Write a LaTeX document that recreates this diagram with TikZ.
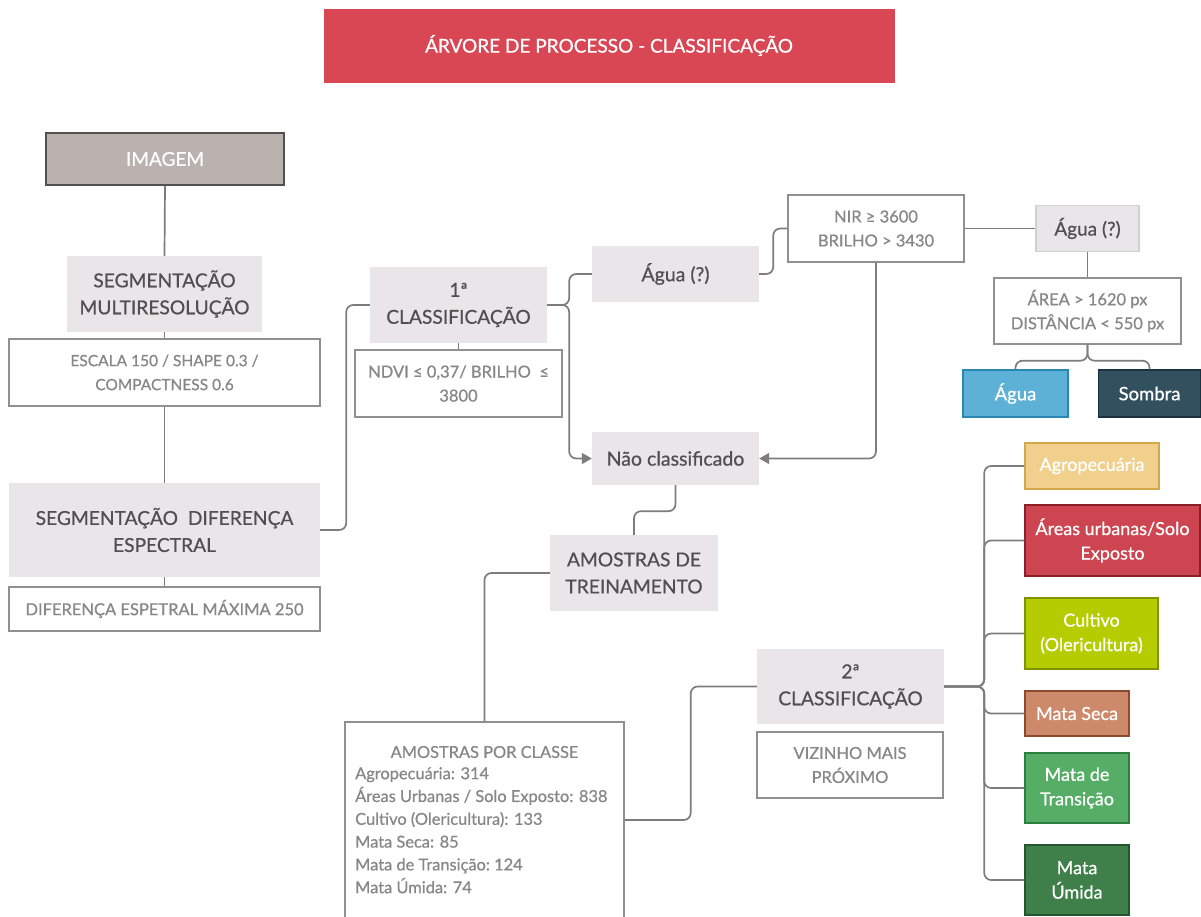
\documentclass[tikz,border=0pt]{standalone}
\usepackage{fontspec}
\setmainfont{Lato}[RawFeature={embolden=0.7}]
\usepackage{tikz}
\usetikzlibrary{arrows.meta,positioning,calc}
\definecolor{titleRed}{RGB}{217,71,84}
\definecolor{boxGray}{RGB}{233,229,232}
\definecolor{imgGray}{RGB}{187,177,175}
\definecolor{txtDark}{RGB}{80,80,80}
\definecolor{txtLight}{RGB}{135,135,135}
\definecolor{lineGray}{RGB}{125,125,125}
\definecolor{aguaBlue}{RGB}{93,176,214}
\definecolor{aguaBlueDark}{RGB}{42,134,179}
\definecolor{sombraDark}{RGB}{51,80,95}
\definecolor{sombraDarker}{RGB}{28,50,64}
\definecolor{agroFill}{RGB}{240,208,140}
\definecolor{agroLine}{RGB}{212,168,74}
\definecolor{urbFill}{RGB}{204,69,80}
\definecolor{urbLine}{RGB}{139,31,39}
\definecolor{cultFill}{RGB}{181,204,0}
\definecolor{cultLine}{RGB}{127,147,0}
\definecolor{secaFill}{RGB}{205,138,106}
\definecolor{secaLine}{RGB}{140,74,46}
\definecolor{transFill}{RGB}{85,173,102}
\definecolor{transLine}{RGB}{46,128,64}
\definecolor{umidaFill}{RGB}{63,127,74}
\definecolor{umidaLine}{RGB}{36,85,48}

\begin{document}
\begin{tikzpicture}[x=1pt,y=-1pt,
  base/.style={rectangle, inner sep=0pt, align=center},
  graybox/.style={base, fill=boxGray, text=txtDark, font=\fontsize{19.2}{27}\selectfont},
  whitebox/.style={base, draw=lineGray!85, line width=1.4pt, fill=white, text=txtLight, font=\fontsize{16.5}{24}\selectfont},
  classbox/.style={base, line width=1.4pt, text=white, font=\fontsize{18}{24.5}\selectfont},
  conn/.style={draw=lineGray, line width=1.7pt, rounded corners=7pt},
  tip/.style={-{Triangle[length=10pt,width=11pt]}},
  sz/.style 2 args={minimum width=#1pt, minimum height=#2pt}]
\useasboundingbox (0,0) rectangle (1201,916);

% title
\node[base, sz={571}{74}, fill=titleRed, text=white, font=\fontsize{19}{22}\selectfont] (title) at (609,45.5) {ÁRVORE DE PROCESSO - CLASSIFICAÇÃO};

% segmentation column
\node[base, sz={238}{52}, fill=imgGray, draw=txtDark, line width=1.4pt, text=white, font=\fontsize{19}{22}\selectfont] (imagem) at (165,159) {IMAGEM};
\node[graybox, sz={195}{76}] (segmulti) at (164.5,294) {SEGMENTAÇÃO\\MULTIRESOLUÇÃO};
\node[whitebox, sz={311}{67}, font=\fontsize{15.5}{24}\selectfont] (escala) at (164.5,372.5) {ESCALA 150 / SHAPE 0.3 /\\COMPACTNESS 0.6};
\node[graybox, sz={311}{94}] (segdif) at (164.5,530) {SEGMENTAÇÃO\ \ DIFERENÇA\\ESPECTRAL};
\node[whitebox, sz={311}{44}] (difer) at (164.5,609) {DIFERENÇA ESPETRAL MÁXIMA 250};

% first classification
\node[graybox, sz={177}{76}] (cls1) at (458.5,305) {1ª\\CLASSIFICAÇÃO};
\node[whitebox, sz={207}{67}] (ndvi) at (458.5,383.5) {NDVI ≤ 0,37/ BRILHO \ ≤\\3800};
\node[graybox, sz={167}{56}, font=\fontsize{19.5}{22}\selectfont] (agua1) at (675.5,274) {Água (?)};
\node[graybox, sz={167}{53}, font=\fontsize{19.5}{22}\selectfont] (naocls) at (675.5,458.5) {Não classificado};
\node[whitebox, sz={176}{67}] (nir) at (876,228.5) {NIR ≥ 3600\\BRILHO > 3430};
\node[graybox, sz={103}{46}, draw=lineGray!35, line width=1.4pt, font=\fontsize{19}{22}\selectfont] (agua2) at (1087.5,228.5) {Água (?)};
\node[whitebox, sz={187}{66}] (area) at (1087.5,311) {ÁREA > 1620 px\\DISTÂNCIA < 550 px};
\node[classbox, sz={105}{47}, fill=aguaBlue, draw=aguaBlueDark, font=\fontsize{18.5}{22}\selectfont] (aguab) at (1015.5,393.5) {Água};
\node[classbox, sz={102}{47}, fill=sombraDark, draw=sombraDarker, font=\fontsize{18.5}{22}\selectfont] (sombra) at (1149.5,393.5) {Sombra};

% training samples
\node[graybox, sz={168}{76}] (amostras) at (634,573) {AMOSTRAS DE\\TREINAMENTO};
\node[whitebox, sz={279}{196}] (porclasse) at (484.5,820) {};
\node[base, text=txtLight, font=\fontsize{16.4}{18}\selectfont] (porhead) at (484.5,752) {AMOSTRAS POR CLASSE};
\node[base, align=left, anchor=north west, text=txtLight, font=\fontsize{16.4}{22.8}\selectfont] (porlist) at (355,767) {Agropecuária: 314\\Áreas Urbanas / Solo Exposto: 838\\Cultivo (Olericultura): 133\\Mata Seca: 85\\Mata de Transição:\ 124\\Mata Úmida: 74};

% second classification
\node[graybox, sz={187}{75}] (cls2) at (850.5,686.5) {2ª\\CLASSIFICAÇÃO};
\node[whitebox, sz={186}{66}] (vizinho) at (850,765) {VIZINHO MAIS\\PRÓXIMO};

\node[classbox, sz={134}{46}, fill=agroFill, draw=agroLine] (agro) at (1092,466) {Agropecuária};
\node[classbox, sz={175}{71}, fill=urbFill, draw=urbLine] (urb) at (1112.5,540.5) {Áreas urbanas/Solo\\Exposto};
\node[classbox, sz={133}{71}, fill=cultFill, draw=cultLine] (cult) at (1091.5,633.5) {Cultivo\\(Olericultura)};
\node[classbox, sz={104}{45}, fill=secaFill, draw=secaLine] (seca) at (1077,713.5) {Mata Seca};
\node[classbox, sz={104}{70}, fill=transFill, draw=transLine] (trans) at (1077,788) {Mata de\\Transição};
\node[classbox, sz={104}{70}, fill=umidaFill, draw=umidaLine] (umida) at (1077,880) {Mata\\Úmida};

% connectors
\draw[conn] (imagem.south) -- (segmulti.north);
\draw[conn] (segmulti.south) -- (escala.north);
\draw[conn] (escala.south) -- (segdif.north);
\draw[conn] (segdif.south) -- (difer.north);
\draw[conn] (segdif.east) -- ++(26,0) |- (cls1.west);
\draw[conn] (cls1.south) -- (ndvi.north);
\draw[conn] (cls1.east) -- ++(22,0) |- (agua1.west);
\draw[conn, tip] (cls1.east) -- ++(22,0) |- (naocls.west);
\draw[conn] (agua1.east) -- ++(14,0) |- (nir.west);
\draw[conn, tip] (nir.south) |- (naocls.east);
\draw[conn] (nir.east) -- (agua2.west);
\draw[conn] (agua2.south) -- (area.north);
\draw[conn] (area.south) -- ++(0,16) -| (aguab.north);
\draw[conn] (area.south) -- ++(0,16) -| (sombra.north);
\draw[conn] (naocls.south) -- ++(0,26) -| (amostras.north);
\draw[conn] (amostras.west) -| (porclasse.north);
\draw[conn] (porclasse.east) -- ++(66,0) |- (cls2.west);
\foreach \c in {agro,urb,cult,seca,trans,umida}
  \draw[conn] (cls2.east) -- ++(40,0) |- (\c.west);
\end{tikzpicture}
\end{document}
